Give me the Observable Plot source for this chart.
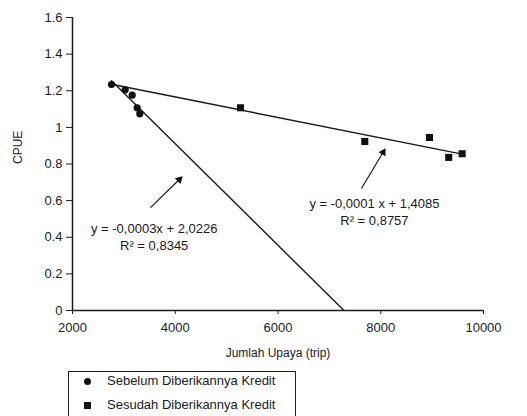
<!DOCTYPE html>
<html>
<head>
<meta charset="utf-8">
<script src="https://cdn.jsdelivr.net/npm/d3@7"></script>
<script src="https://cdn.jsdelivr.net/npm/@observablehq/plot@0.6"></script>
<style>
  html, body { margin: 0; padding: 0; background: #fff; }
  #wrap { position: relative; width: 527px; height: 416px; overflow: hidden; background: #fff;
          font-family: "Liberation Sans", Arial, sans-serif; color: #1a1a1a; }
  #legend { position: absolute; left: 68px; top: 371px; width: 228px; height: 48px;
            border: 1.5px solid #222; box-sizing: border-box; font-size: 13px; }
  .item { position: absolute; left: 0; height: 16px; line-height: 16px; white-space: nowrap; }
  .item span.lab { position: absolute; left: 38px; top: 0; }
  .sym { position: absolute; left: 15px; top: 4.5px; width: 7px; height: 7px; background: #111; }
  .sym.circle { border-radius: 50%; }
</style>
</head>
<body>
<div id="wrap">
  <div id="chart"></div>
  <div id="legend"></div>
</div>
<script>
// Fishing effort (trips) and CPUE, before and after the credit programme
const sebelumEffort = [2759, 3026, 3162, 3259, 3310];
const sebelumCpue   = [1.234, 1.205, 1.176, 1.107, 1.074];
// the "after" series starts from the same base year as the "before" series
const sesudahEffort = [2759, 5270, 7689, 8948, 9323, 9584];
const sesudahCpue   = [1.234, 1.107, 0.923, 0.945, 0.836, 0.856];

const seriesNames = ["Sebelum Diberikannya Kredit", "Sesudah Diberikannya Kredit"];
const equationLabels = ["y = -0,0003x + 2,0226\nR\u00b2 = 0,8345", "y = -0,0001 x + 1,4085\nR\u00b2 = 0,8757"];

const xTicks = [2000, 4000, 6000, 8000, 10000];
const yTicks = [0, 0.2, 0.4, 0.6, 0.8, 1, 1.2, 1.4, 1.6];

const sebelum = sebelumEffort.map((x, i) => ({x, y: sebelumCpue[i]}));
const sesudah = sesudahEffort.map((x, i) => ({x, y: sesudahCpue[i]}));

// ordinary least-squares fit
function fit(pts) {
  const mx = d3.mean(pts, d => d.x), my = d3.mean(pts, d => d.y);
  const sxy = d3.sum(pts, d => (d.x - mx) * (d.y - my));
  const sxx = d3.sum(pts, d => (d.x - mx) ** 2);
  const b = sxy / sxx;
  return {b, a: my - b * mx};
}
const f1 = fit(sebelum), f2 = fit(sesudah);
const x0 = d3.min(sebelumEffort);
// the "before" trend is projected forward until CPUE reaches zero
const trend1 = [{x: x0, y: f1.a + f1.b * x0}, {x: -f1.a / f1.b, y: 0}];
const [s0, s1] = d3.extent(sesudahEffort);
const trend2 = [{x: s0, y: f2.a + f2.b * s0}, {x: s1, y: f2.a + f2.b * s1}];

// layout
const W = 527, H = 365, mL = 72, mR = 44, mT = 17, mB = 55;
const kx = (W - mL - mR) / 8000, ky = (H - mT - mB) / 1.6;

// annotation arrows (tail -> tip, data units)
const arrows = [
  {x1: 3518, y1: 0.562, x2: 4141, y2: 0.732},
  {x1: 7624, y1: 0.666, x2: 8091, y2: 0.885}
].map(a => {
  const dx = (a.x2 - a.x1) * kx, dy = -(a.y2 - a.y1) * ky;
  const len = Math.hypot(dx, dy), back = 4.4;
  return {...a,
    rot: Math.atan2(dx, -dy) * 180 / Math.PI,
    hx: a.x2 - (dx / len) * back / kx,
    hy: a.y2 + (dy / len) * back / ky};
});

const labels = [
  {x: 3590, y: 0.407, text: equationLabels[0]},
  {x: 7877, y: 0.543, text: equationLabels[1]}
];

const plot = Plot.plot({
  width: W, height: H,
  marginLeft: mL, marginRight: mR, marginTop: mT, marginBottom: mB,
  style: {fontFamily: "'Liberation Sans', Arial, sans-serif", fontSize: "13px", color: "#1a1a1a", background: "#fff", overflow: "visible"},
  x: {domain: [2000, 10000], ticks: xTicks, tickFormat: "d", tickSize: 4, tickPadding: 8, label: null},
  y: {domain: [0, 1.6], ticks: yTicks, tickFormat: d => String(+d.toFixed(1)), tickSize: 6, tickPadding: 4, label: null},
  marks: [
    Plot.ruleX([2000], {y1: 0, y2: 1.6, stroke: "#1a1a1a", strokeWidth: 1.5}),
    Plot.ruleY([0], {x1: 2000, x2: 10000, stroke: "#1a1a1a", strokeWidth: 1.5}),
    Plot.line(trend1, {x: "x", y: "y", stroke: "#1a1a1a", strokeWidth: 1.4}),
    Plot.line(trend2, {x: "x", y: "y", stroke: "#1a1a1a", strokeWidth: 1.4}),
    // the shared base-year point is marked once, as a "before" circle
    Plot.dot(sesudah, {x: "x", y: "y", filter: d => !sebelumEffort.includes(d.x), symbol: "square", r: 4, fill: "#111", stroke: null}),
    Plot.dot(sebelum, {x: "x", y: "y", symbol: "circle", r: 3.6, fill: "#111", stroke: null}),
    Plot.link(arrows, {x1: "x1", y1: "y1", x2: "hx", y2: "hy", stroke: "#1a1a1a", strokeWidth: 1.2}),
    Plot.dot(arrows, {x: "hx", y: "hy", symbol: "triangle", r: 3, rotate: "rot", fill: "#111", stroke: null}),
    Plot.text(labels, {x: "x", y: "y", text: "text", lineHeight: 1.3, lineAnchor: "middle", textAnchor: "middle", fontSize: 13, fill: "#1a1a1a"}),
    Plot.text(["CPUE"], {frameAnchor: "left", dx: -54, rotate: -90, fontSize: 12, fill: "#1a1a1a"}),
    Plot.text(["Jumlah Upaya (trip)"], {frameAnchor: "bottom", dy: 46, fontSize: 12, fill: "#1a1a1a"})
  ]
});
document.getElementById("chart").appendChild(plot);

// legend below the chart
const legend = document.getElementById("legend");
[["circle", 0], ["square", 1]].forEach(([shape, i]) => {
  const item = document.createElement("div");
  item.className = "item";
  item.style.top = (i === 0 ? 1 : 25) + "px";
  item.style.width = "100%";
  const sym = document.createElement("span");
  sym.className = "sym " + shape;
  const lab = document.createElement("span");
  lab.className = "lab";
  lab.textContent = seriesNames[i];
  item.appendChild(sym);
  item.appendChild(lab);
  legend.appendChild(item);
});
</script>
</body>
</html>
